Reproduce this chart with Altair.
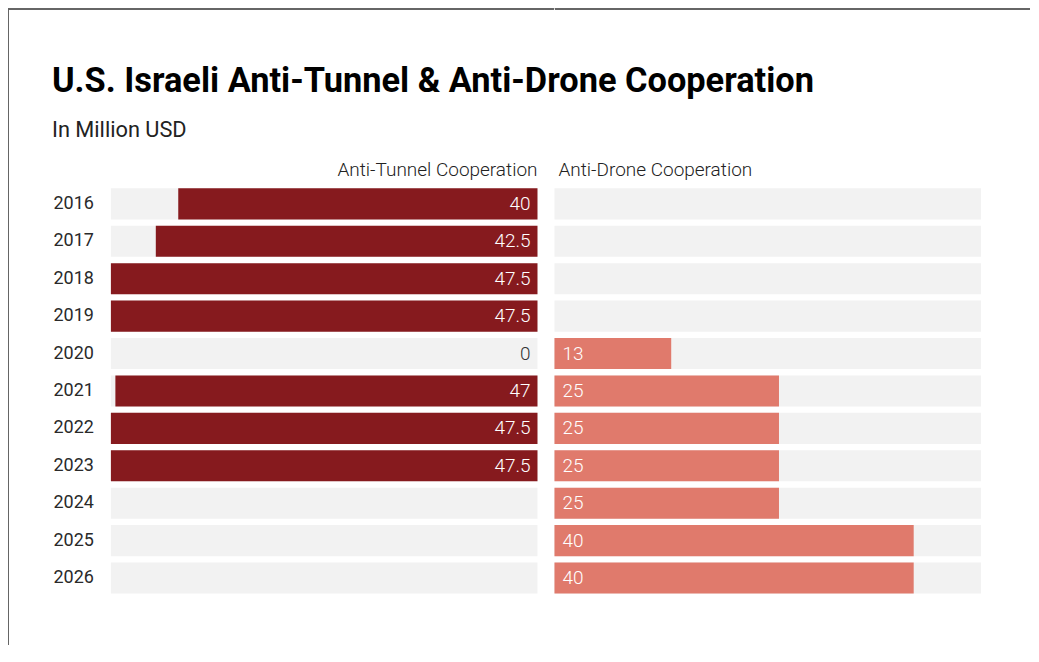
import altair as alt
import pandas as pd

years = ["2016", "2017", "2018", "2019", "2020", "2021", "2022", "2023", "2024", "2025", "2026"]
tunnel = [40, 42.5, 47.5, 47.5, 0, 47, 47.5, 47.5, None, None, None]
drone = [None, None, None, None, 13, 25, 25, 25, 25, 40, 40]
scale_max = 47.5

df = pd.DataFrame({"year": years, "tunnel": tunnel, "drone": drone})
df["full"] = scale_max

FONT = "Roboto"
W = 427
H = 412
FRAME = "#666666"

yscale = alt.Scale(paddingInner=0.17, paddingOuter=0.085)

y_left = alt.Y("year:N", sort=years, scale=yscale,
               axis=alt.Axis(title=None, ticks=False, domain=False, labelAlign="left",
                             labelPadding=58, labelFontSize=18, labelColor="#2a2a2a",
                             labelFont=FONT))
y_right = alt.Y("year:N", sort=years, scale=yscale, axis=None)

xl = alt.Scale(domain=[0, scale_max], reverse=True)
xr = alt.Scale(domain=[0, scale_max])

base = alt.Chart(df)

# decorative frame (card border at top and left of the page)
frame_left_v = base.mark_rule(color=FRAME, strokeWidth=1).encode(
    x=alt.value(-102.5), y=alt.value(-176.5), y2=alt.value(460))
frame_left_h = base.mark_rule(color=FRAME, strokeWidth=1).encode(
    x=alt.value(-102.5), x2=alt.value(W + 16.5), y=alt.value(-176.5))
frame_right_h = base.mark_rule(color=FRAME, strokeWidth=1).encode(
    x=alt.value(0.5), x2=alt.value(476), y=alt.value(-176.5))

left = alt.layer(
    frame_left_v,
    frame_left_h,
    base.mark_bar(color="#f2f2f2").encode(x=alt.X("full:Q", scale=xl, axis=None), y=y_left),
    base.mark_bar(color="#861a1e").encode(x=alt.X("tunnel:Q", scale=xl, axis=None), y=y_left),
    base.transform_filter("isValid(datum.tunnel)").mark_text(
        align="right", dx=-7, fontSize=19, fontWeight=300, font=FONT).encode(
        x=alt.datum(0, scale=xl),
        y=y_left,
        text=alt.Text("tunnel:Q", format="~g"),
        color=alt.condition("datum.tunnel > 0", alt.value("white"), alt.value("#333")),
    ),
).properties(
    width=W, height=H,
    title=alt.TitleParams("Anti-Tunnel Cooperation", anchor="end", frame="group",
                          fontSize=19, fontWeight=300, color="#222", font=FONT,
                          offset=-171.5),
)

right = alt.layer(
    frame_right_h,
    base.mark_bar(color="#f2f2f2").encode(x=alt.X("full:Q", scale=xr, axis=None), y=y_right),
    base.mark_bar(color="#e07a6c").encode(x=alt.X("drone:Q", scale=xr, axis=None), y=y_right),
    base.transform_filter("isValid(datum.drone)").mark_text(
        align="left", dx=8, fontSize=19, fontWeight=300, font=FONT, color="white").encode(
        x=alt.datum(0, scale=xr),
        y=y_right,
        text=alt.Text("drone:Q", format="~g"),
    ),
).properties(
    width=W, height=H,
    title=alt.TitleParams("Anti-Drone Cooperation", anchor="start", frame="group",
                          fontSize=19, fontWeight=300, color="#222", font=FONT,
                          offset=-171.5, dx=4),
)

chart = alt.hconcat(left, right, spacing=-1).properties(
    title=alt.TitleParams(
        "U.S. Israeli Anti-Tunnel & Anti-Drone Cooperation",
        subtitle="In Million USD",
        anchor="start", frame="bounds", dx=44,
        font=FONT, fontSize=34.4, fontWeight="bold", color="#000",
        subtitleFont=FONT, subtitleFontSize=21.8, subtitleColor="#222",
        subtitlePadding=21, offset=-135,
    ),
    padding={"left": 0, "top": 0, "right": 0, "bottom": 0},
).configure_view(stroke=None)

chart.save("out.html", embed_options={"renderer": "svg", "actions": False})
